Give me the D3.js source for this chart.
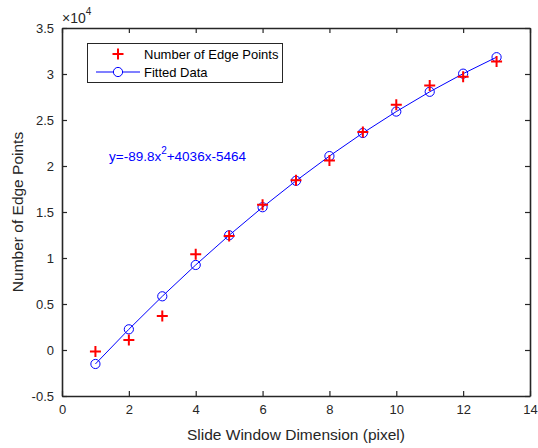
<!DOCTYPE html>
<html>
<head>
<meta charset="utf-8">
<script src="https://cdn.jsdelivr.net/npm/d3@7"></script>
<style>
  body { margin: 0; background: #fff; }
  text { font-family: "Liberation Sans", Arial, sans-serif; }
</style>
</head>
<body>
<div id="chart"></div>
<script>
// window sizes (x axis)
const windowSizes = [1, 2, 3, 4, 5, 6, 7, 8, 9, 10, 11, 12, 13];
// measured edge point counts (red +)
const edgePoints = [-150, 1100, 3700, 10400, 12400, 15800, 18450, 20600, 23700, 26650, 28750, 29700, 31350];
// fitted values (blue line with circles)
const fittedPoints = [-1518, 2249, 5836, 9243, 12471, 15519, 18388, 21077, 23586, 25916, 28066, 30037, 31828];

const xTicks = [0, 2, 4, 6, 8, 10, 12, 14];
const yTicks = [-5000, 0, 5000, 10000, 15000, 20000, 25000, 30000, 35000];

const legendLabels = ['Number of Edge Points', 'Fitted Data'];

const width = 538;
const height = 448;
const margin = { top: 28, right: 8, bottom: 52, left: 62 };
const axisColor = '#262626';

const svg = d3.select('#chart')
    .append('svg')
    .attr('width', width)
    .attr('height', height)
    .style('background', '#fff');

const xScale = d3.scaleLinear()
    .domain([0, 14])
    .range([margin.left, width - margin.right]);

const yScale = d3.scaleLinear()
    .domain([-5000, 35000])
    .range([height - margin.bottom, margin.top]);

const yFormat = d => String(d / 10000);

// axes (ticks point inward, like matlab)
const axBottom = svg.append('g')
    .attr('transform', `translate(0, ${yScale(-5000)})`)
    .call(d3.axisBottom(xScale).tickValues(xTicks).tickSizeInner(-5).tickSizeOuter(0).tickPadding(9));

const axTop = svg.append('g')
    .attr('transform', `translate(0, ${yScale(35000)})`)
    .call(d3.axisTop(xScale).tickValues(xTicks).tickSizeInner(-5).tickSizeOuter(0).tickFormat(''));

const axLeft = svg.append('g')
    .attr('transform', `translate(${xScale(0)}, 0)`)
    .call(d3.axisLeft(yScale).tickValues(yTicks).tickSizeInner(-5).tickSizeOuter(0).tickPadding(8).tickFormat(yFormat));

const axRight = svg.append('g')
    .attr('transform', `translate(${xScale(14)}, 0)`)
    .call(d3.axisRight(yScale).tickValues(yTicks).tickSizeInner(-5).tickSizeOuter(0).tickFormat(''));

[axBottom, axTop, axLeft, axRight].forEach(g => {
    g.select('.domain').attr('stroke', axisColor).attr('stroke-width', 1.6);
    g.selectAll('.tick line').attr('stroke', axisColor).attr('stroke-width', 1.2);
    g.selectAll('.tick text')
        .attr('fill', axisColor)
        .style('font-size', '13px');
});

// exponent label
const expo = svg.append('text')
    .attr('x', xScale(0))
    .attr('y', 23)
    .attr('fill', axisColor)
    .style('font-size', '14px');
expo.append('tspan').text('\u00d710');
expo.append('tspan').attr('dy', -8).style('font-size', '10px').text('4');

// axis labels
svg.append('text')
    .attr('x', (xScale(0) + xScale(14)) / 2)
    .attr('y', 440)
    .attr('text-anchor', 'middle')
    .attr('fill', axisColor)
    .style('font-size', '15.5px')
    .text('Slide Window Dimension (pixel)');

svg.append('text')
    .attr('transform', `translate(23, ${(yScale(-5000) + yScale(35000)) / 2}) rotate(-90)`)
    .attr('text-anchor', 'middle')
    .attr('fill', axisColor)
    .style('font-size', '15.5px')
    .text('Number of Edge Points');

// fitted line + circles
const fitData = windowSizes.map((x, i) => ({ x, y: fittedPoints[i] }));
const line = d3.line().x(d => xScale(d.x)).y(d => yScale(d.y));

svg.append('path')
    .datum(fitData)
    .attr('d', line)
    .attr('fill', 'none')
    .attr('stroke', '#0000ff')
    .attr('stroke-width', 1);

svg.append('g')
    .selectAll('circle')
    .data(fitData)
    .join('circle')
    .attr('cx', d => xScale(d.x))
    .attr('cy', d => yScale(d.y))
    .attr('r', 4.6)
    .attr('fill', 'none')
    .attr('stroke', '#0000ff')
    .attr('stroke-width', 1);

// measured points as red plus
const plus = (cx, cy, s) => `M${cx - s},${cy}H${cx + s}M${cx},${cy - s}V${cy + s}`;
const edgeData = windowSizes.map((x, i) => ({ x, y: edgePoints[i] }));

svg.append('g')
    .selectAll('path')
    .data(edgeData)
    .join('path')
    .attr('d', d => plus(xScale(d.x), yScale(d.y), 5.5))
    .attr('stroke', '#ff0000')
    .attr('stroke-width', 2)
    .attr('fill', 'none');

// fit equation
const eq = svg.append('text')
    .attr('x', 109)
    .attr('y', 161)
    .attr('fill', '#0000ff')
    .style('font-size', '13.5px');
eq.append('tspan').text('y=-89.8x');
eq.append('tspan').attr('dy', -7).style('font-size', '10px').text('2');
eq.append('tspan').attr('dy', 7).text('+4036x-5464');

// legend
const legend = svg.append('g');
legend.append('rect')
    .attr('x', 87.5)
    .attr('y', 43.5)
    .attr('width', 195)
    .attr('height', 39)
    .attr('fill', '#fff')
    .attr('stroke', axisColor)
    .attr('stroke-width', 1);

legend.append('path')
    .attr('d', plus(118, 54, 5.5))
    .attr('stroke', '#ff0000')
    .attr('stroke-width', 2);

legend.append('line')
    .attr('x1', 96).attr('x2', 140)
    .attr('y1', 72).attr('y2', 72)
    .attr('stroke', '#0000ff')
    .attr('stroke-width', 1.2);

legend.append('circle')
    .attr('cx', 118).attr('cy', 72).attr('r', 4.6)
    .attr('fill', '#fff')
    .attr('stroke', '#0000ff');

legend.selectAll('text.lbl')
    .data(legendLabels)
    .join('text')
    .attr('class', 'lbl')
    .attr('x', 144)
    .attr('y', (d, i) => 59 + i * 18)
    .attr('fill', '#000')
    .style('font-size', '13px')
    .text(d => d);
</script>
</body>
</html>
